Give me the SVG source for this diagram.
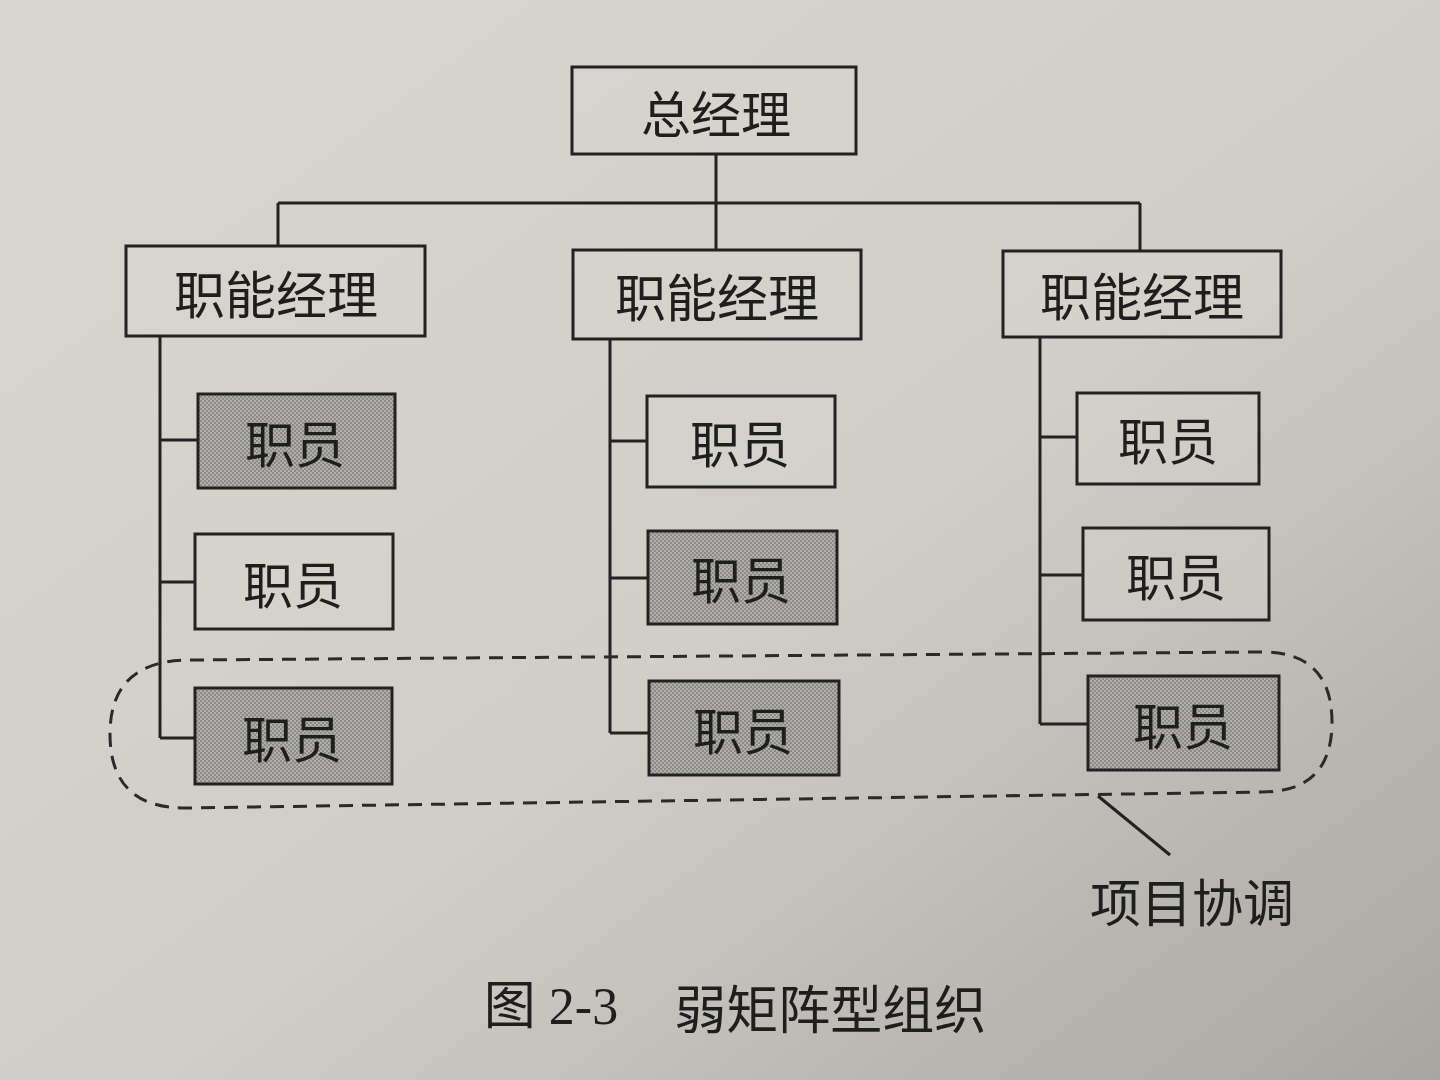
<svg xmlns="http://www.w3.org/2000/svg" width="1440" height="1080" viewBox="0 0 1440 1080">
<defs>
<linearGradient id="bg" x1="0" y1="0" x2="1" y2="1">
<stop offset="0" stop-color="#d9d6d0"/>
<stop offset="0.55" stop-color="#d1cec8"/>
<stop offset="1" stop-color="#a8a6a1"/>
</linearGradient>
<pattern id="dots" width="4" height="4" patternUnits="userSpaceOnUse">
<rect width="4" height="4" fill="#b0aeaa"/>
<circle cx="1" cy="1" r="0.9" fill="#7c7a77"/>
<circle cx="3" cy="3" r="0.9" fill="#7c7a77"/>
</pattern>
<style>
.box{fill:#d9d7d2;fill-opacity:0.35;stroke:#222;stroke-width:3}
.shaded{fill:url(#dots);stroke:#222;stroke-width:3}
.ln{fill:none;stroke:#222;stroke-width:3}
.dash{fill:none;stroke:#2a2a2a;stroke-width:3;stroke-dasharray:14 9}
text{font-family:"Noto Sans CJK SC","Liberation Serif",serif;fill:#1e1e1e;text-anchor:middle;dominant-baseline:central}
.t1{font-size:50px}
.t2{font-size:51px}
.t3{font-size:50px}
</style>
</defs>
<rect width="1440" height="1080" fill="url(#bg)"/>
<g id="connectors">
<path class="ln" d="M716 154 V250 M278 203 H1140 M278 203 V246 M1140 203 V251"/>
<path class="ln" d="M160 336 V738 M160 440 H198 M160 582 H195 M160 738 H195"/>
<path class="ln" d="M610 339 V733 M610 441 H647 M610 578 H648 M610 733 H649"/>
<path class="ln" d="M1040 337 V724 M1040 437 H1077 M1040 575 H1083 M1040 724 H1088"/>
<path class="dash" d="M190 660 L1262 652 Q1332 652 1332 722 Q1332 792 1262 792 L185 808 Q110 808 110 734 Q110 660 190 660 Z"/>
<path class="ln" d="M1098 796 L1170 855" stroke-width="2.5"/>
</g>
<g id="gm"><rect class="box" x="572" y="67" width="284" height="87"/><text class="t1" x="716" y="111">总经理</text></g>
<g id="fm1"><rect class="box" x="126" y="246" width="299" height="90"/><text class="t2" x="276" y="292">职能经理</text></g>
<g id="fm2"><rect class="box" x="573" y="250" width="288" height="89"/><text class="t2" x="717" y="295">职能经理</text></g>
<g id="fm3"><rect class="box" x="1003" y="251" width="278" height="86"/><text class="t2" x="1142" y="294">职能经理</text></g>
<g id="s11"><rect class="shaded" x="198" y="394" width="197" height="94"/><text class="t3" x="295" y="441">职员</text></g>
<g id="s12"><rect class="box" x="195" y="534" width="198" height="95"/><text class="t3" x="293" y="582">职员</text></g>
<g id="s13"><rect class="shaded" x="195" y="688" width="197" height="96"/><text class="t3" x="292" y="736">职员</text></g>
<g id="s21"><rect class="box" x="647" y="396" width="188" height="91"/><text class="t3" x="740" y="441">职员</text></g>
<g id="s22"><rect class="shaded" x="648" y="531" width="189" height="93"/><text class="t3" x="741" y="577">职员</text></g>
<g id="s23"><rect class="shaded" x="649" y="681" width="190" height="94"/><text class="t3" x="743" y="728">职员</text></g>
<g id="s31"><rect class="box" x="1077" y="393" width="182" height="91"/><text class="t3" x="1168" y="438">职员</text></g>
<g id="s32"><rect class="box" x="1083" y="528" width="186" height="92"/><text class="t3" x="1176" y="574">职员</text></g>
<g id="s33"><rect class="shaded" x="1088" y="676" width="191" height="94"/><text class="t3" x="1183" y="723">职员</text></g>
<g id="label"><text x="1192" y="900" style="font-size:51px">项目协调</text></g>
<g id="caption"><text x="735" y="1006" style="font-size:52px"><tspan style="font-family:'Liberation Serif','Noto Sans CJK SC',serif">图 2-3</tspan><tspan dx="56">弱矩阵型组织</tspan></text></g>
</svg>
